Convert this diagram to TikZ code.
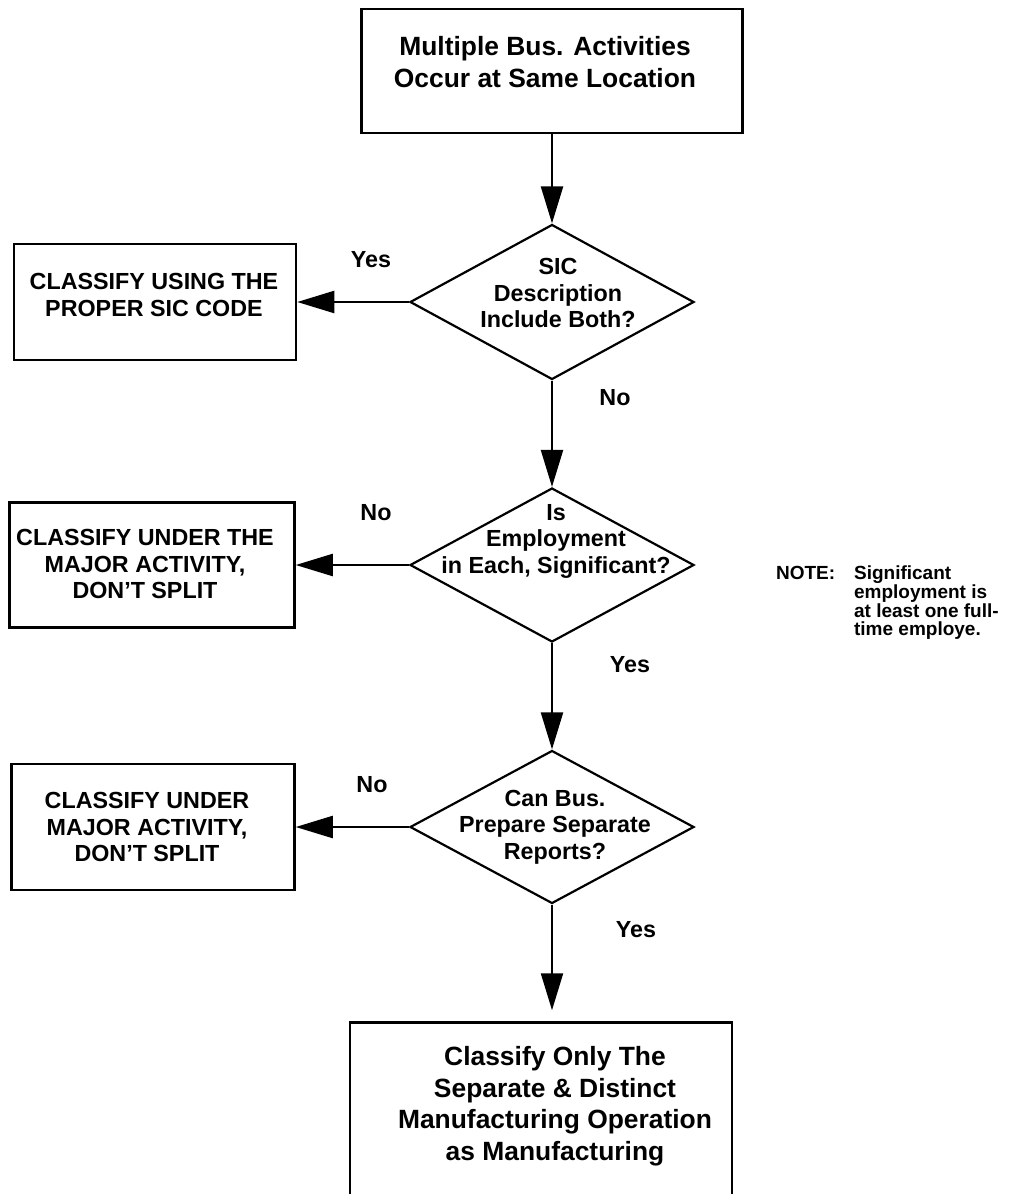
\documentclass[tikz,border=0pt]{standalone}
\usepackage{fontspec}
\setmainfont{Liberation Sans}
\usetikzlibrary{shapes.geometric,arrows.meta}

\begin{document}
\begin{tikzpicture}[x=1pt,y=-1pt,line width=2.2pt,
  >={Triangle[length=37pt,width=22pt]},
  box/.style={draw,line width=2.5pt,inner sep=0pt},
  dia/.style={draw,diamond,inner sep=0pt,minimum width=284pt},
  big/.style={font=\bfseries\fontsize{26.4}{31.5}\selectfont,align=center},
  txt/.style={font=\bfseries\fontsize{23.3}{26.5}\selectfont,align=center},
  lbl/.style={font=\bfseries\fontsize{23.3}{26.5}\selectfont},
  note/.style={font=\bfseries\fontsize{19}{18.7}\selectfont,align=left,inner sep=0pt}]
\clip (0,0) rectangle (1024,1194);
\fill[white] (0,0) rectangle (1024,1194);

\node[box,minimum width=381pt,minimum height=124pt] (m) at (552,71) {};
\node[big] (mt) at (545,62) {Multiple Bus. Activities\\Occur at Same Location};

\node[dia,minimum height=155pt] (q1) at (552,302) {};
\node[txt] (q1t) at (558,293) {SIC\\Description\\Include Both?};
\node[box,minimum width=282pt,minimum height=116pt] (c1) at (155,302) {};
\node[txt] (c1t) at (154,295) {CLASSIFY USING THE\\PROPER SIC CODE};
\node[lbl] (y1) at (371,260) {Yes};
\node[lbl] (n1) at (615,398) {No};
\draw[->] (m.south) -- (q1.north);
\draw[->] (q1.west) -- (c1.east);

\node[dia,minimum height=154pt] (q2) at (552,565) {};
\node[txt] (q2t) at (556,541) {Is\\Employment\\in Each, Significant?};
\node[box,minimum width=285pt,minimum height=125pt] (c2) at (152,565) {};
\node[txt] (c2t) at (145,564) {CLASSIFY UNDER THE\\MAJOR ACTIVITY,\\DON'T SPLIT};
\node[lbl] (n2) at (376,513) {No};
\node[lbl] (y2) at (630,665) {Yes};
\draw[->] (q1.south) -- (q2.north);
\draw[->] (q2.west) -- (c2.east);

\node[note,anchor=north west] (nt) at (775,565)
  {\makebox[78pt][l]{NOTE:}Significant\\\hspace*{78pt}employment is\\
   \hspace*{78pt}at least one full-\\\hspace*{78pt}time employe.};

\node[dia,minimum height=153pt] (q3) at (552,827) {};
\node[txt] (q3t) at (555,827) {Can Bus.\\Prepare Separate\\Reports?};
\node[box,minimum width=283pt,minimum height=126pt] (c3) at (153,827) {};
\node[txt] (c3t) at (147,827) {CLASSIFY UNDER\\MAJOR ACTIVITY,\\DON'T SPLIT};
\node[lbl] (n3) at (372,785) {No};
\node[lbl] (y3) at (636,930) {Yes};
\draw[->] (q2.south) -- (q3.north);
\draw[->] (q3.west) -- (c3.east);

\node[box,minimum width=382pt,minimum height=207pt] (e) at (541,1126) {};
\node[big] (et) at (555,1106) {Classify Only The\\Separate \& Distinct\\Manufacturing Operation\\as Manufacturing};
\draw[->,shorten >=11pt] (q3.south) -- (q3.south |- e.north);
\end{tikzpicture}
\end{document}
